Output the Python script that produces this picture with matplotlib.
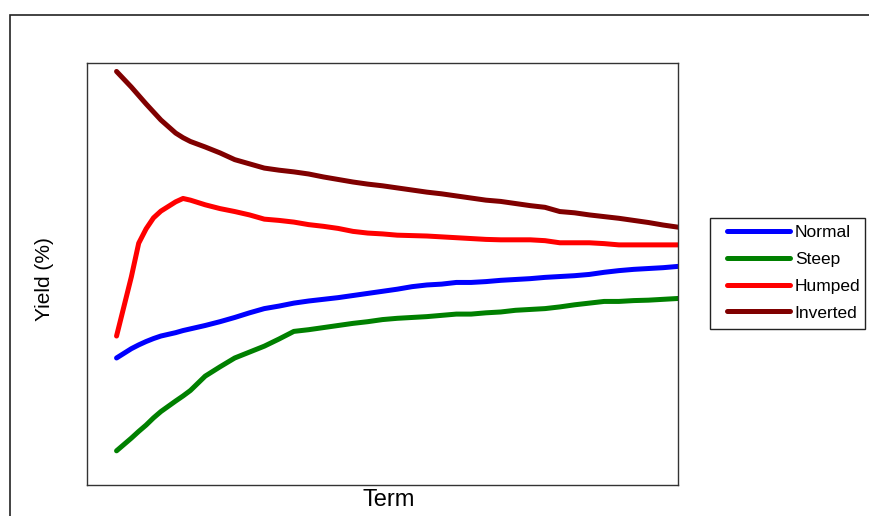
import matplotlib
matplotlib.use("Agg")
import matplotlib.pyplot as plt
from matplotlib.patches import Rectangle

plt.rcParams['font.family'] = ['Liberation Sans', 'DejaVu Sans']

term = [2, 3, 3.5, 4, 4.5, 5, 6, 6.5, 7, 8, 9, 10, 11, 12, 13, 14, 15, 16, 17, 18,
        19, 20, 21, 22, 23, 24, 25, 26, 27, 28, 29, 30, 31, 32, 33, 34, 35, 36, 37, 38, 39, 40]

normal = [3.01, 3.23, 3.32, 3.40, 3.47, 3.53, 3.61, 3.66, 3.70, 3.78, 3.87, 3.97, 4.08, 4.18,
          4.24, 4.31, 4.36, 4.40, 4.44, 4.49, 4.54, 4.59, 4.64, 4.70, 4.74, 4.76, 4.80, 4.80,
          4.82, 4.85, 4.87, 4.89, 4.92, 4.94, 4.96, 4.99, 5.04, 5.08, 5.11, 5.13, 5.15, 5.18]

steep = [0.81, 1.11, 1.27, 1.42, 1.59, 1.74, 1.99, 2.11, 2.24, 2.58, 2.80, 3.01, 3.15, 3.29,
         3.46, 3.64, 3.68, 3.73, 3.78, 3.83, 3.87, 3.92, 3.95, 3.97, 3.99, 4.02, 4.05, 4.05,
         4.08, 4.10, 4.14, 4.16, 4.18, 4.22, 4.27, 4.31, 4.35, 4.35, 4.37, 4.38, 4.40, 4.42]

humped = [3.53, 4.93, 5.73, 6.07, 6.33, 6.49, 6.71, 6.79, 6.75, 6.64, 6.55, 6.48, 6.40, 6.30,
          6.27, 6.23, 6.17, 6.13, 6.08, 6.01, 5.97, 5.95, 5.92, 5.91, 5.90, 5.88, 5.86, 5.84,
          5.82, 5.81, 5.81, 5.81, 5.79, 5.74, 5.74, 5.74, 5.72, 5.69, 5.69, 5.69, 5.69, 5.69]

inverted = [9.80, 9.43, 9.23, 9.03, 8.84, 8.65, 8.34, 8.23, 8.14, 8.01, 7.87, 7.71, 7.61, 7.51,
            7.46, 7.42, 7.37, 7.30, 7.24, 7.18, 7.13, 7.09, 7.04, 6.99, 6.94, 6.90, 6.85, 6.80,
            6.75, 6.72, 6.67, 6.62, 6.58, 6.48, 6.45, 6.40, 6.36, 6.32, 6.27, 6.22, 6.16, 6.11]

series_names = ["Normal", "Steep", "Humped", "Inverted"]
series_colors = ["#0000FF", "#008000", "#FF0000", "#800000"]

W, H = 869, 516
fig = plt.figure(figsize=(W / 100, H / 100), dpi=100)
fig.patch.set_facecolor("white")

# outer chart-area border (extends past right/bottom edges)
fig.patches.append(Rectangle((9.5 / W, -0.05), 1.2, (H - 14.5) / H + 0.05,
                             transform=fig.transFigure, fill=False,
                             edgecolor="#222222", linewidth=1.2, clip_on=False))

# legend frame
fig.patches.append(Rectangle((709.5 / W, (H - 328.5) / H), 155 / W, 111 / H,
                             transform=fig.transFigure, fill=False,
                             edgecolor="#222222", linewidth=1.0))

ax = fig.add_axes([87 / W, (H - 485) / H, (678 - 87) / W, (485 - 63) / H])
for name, vals, col in zip(series_names, [normal, steep, humped, inverted], series_colors):
    ax.plot(term, vals, color=col, linewidth=3.6, solid_capstyle="round",
            solid_joinstyle="round", label=name)

ax.set_xlim(0, 40)
ax.set_ylim(0, 10)
ax.set_xticks([])
ax.set_yticks([])
for sp in ax.spines.values():
    sp.set_color("#333333")
    sp.set_linewidth(1.0)

fig.text(389 / W, (H - 500) / H, "Term", ha="center", va="center", fontsize=17)
fig.text(45 / W, (H - 279) / H, "Yield (%)", ha="center", va="center",
         rotation=90, fontsize=15)

leg = ax.legend(loc="upper left", bbox_to_anchor=(727 / W, (H - 225) / H),
                bbox_transform=fig.transFigure, frameon=False,
                fontsize=12.5, handlelength=3.65, handletextpad=0.25,
                labelspacing=0.67, borderpad=0, borderaxespad=0)

fig.savefig("out.png", dpi=100)
